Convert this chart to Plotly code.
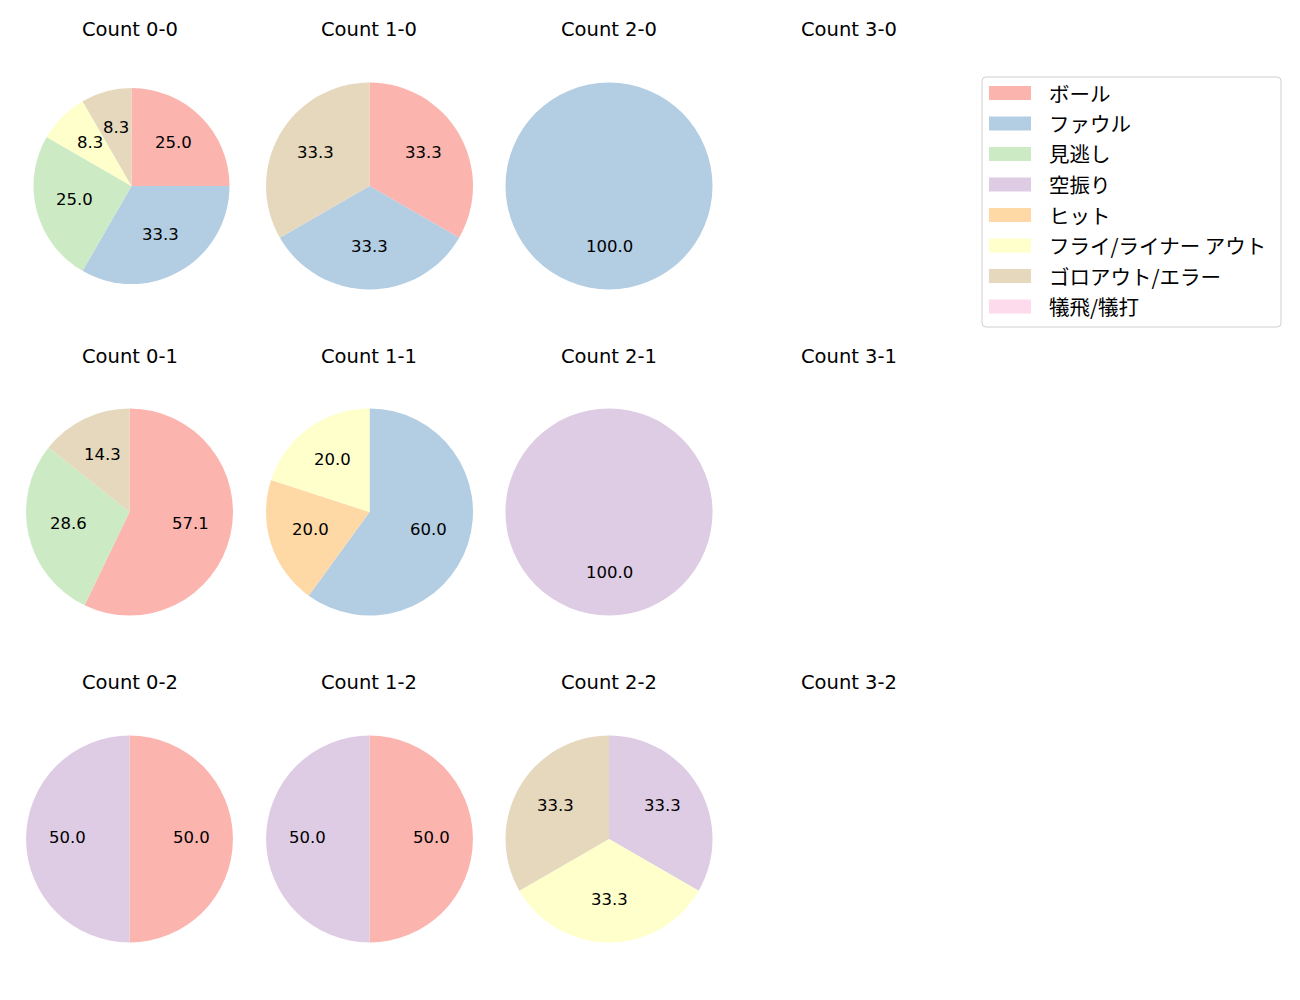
import math
import plotly.graph_objects as go

# ---- data ----
categories = ["ボール", "ファウル", "見逃し", "空振り", "ヒット",
              "フライ/ライナー アウト", "ゴロアウト/エラー", "犠飛/犠打"]
colors = ["#fbb4ae", "#b3cde3", "#ccebc5", "#decbe4", "#fed9a6",
          "#ffffcc", "#e5d8bd", "#fddaec"]

# counts per panel (order of categories); None = no data
count_0_0 = [3, 4, 3, 0, 0, 1, 1, 0]
count_1_0 = [1, 1, 0, 0, 0, 0, 1, 0]
count_2_0 = [0, 1, 0, 0, 0, 0, 0, 0]
count_3_0 = None
count_0_1 = [4, 0, 2, 0, 0, 0, 1, 0]
count_1_1 = [0, 3, 0, 0, 1, 1, 0, 0]
count_2_1 = [0, 0, 0, 1, 0, 0, 0, 0]
count_3_1 = None
count_0_2 = [1, 0, 0, 1, 0, 0, 0, 0]
count_1_2 = [1, 0, 0, 1, 0, 0, 0, 0]
count_2_2 = [0, 0, 0, 1, 0, 1, 1, 0]
count_3_2 = None

panel_titles = [["Count 0-0", "Count 1-0", "Count 2-0", "Count 3-0"],
                ["Count 0-1", "Count 1-1", "Count 2-1", "Count 3-1"],
                ["Count 0-2", "Count 1-2", "Count 2-2", "Count 3-2"]]
panel_data = [[count_0_0, count_1_0, count_2_0, count_3_0],
              [count_0_1, count_1_1, count_2_1, count_3_1],
              [count_0_2, count_1_2, count_2_2, count_3_2]]

# ---- layout geometry (pixels, page coordinates) ----
W, H = 1300, 1000
OFF = 8  # page body margin
col_x = [130, 369.5, 609, 849]
pie_x = [[131.5, 369.5, 609, 849], [129.5, 369.5, 609, 849], [129.5, 369.5, 609, 849]]
row_y = [186, 512, 839]
title_y = [29, 356, 682]
radius = [[98, 103.5, 103.5, 103.5], [103.5, 103.5, 103.5, 103.5], [103.5, 103.5, 103.5, 103.5]]
LABEL_DY = -2

TITLE_FONT = dict(family="DejaVu Sans", size=19.5, color="#000000")
LABEL_FONT = dict(family="DejaVu Sans", size=16.5, color="#000000")
LEGEND_FONT = dict(family="Noto Sans CJK JP", size=20.5, color="#000000")

fig = go.Figure()
annotations = []
shapes = []

def px2x(p):
    return (p - OFF) / W

def px2y(p):
    return 1 - (p - OFF) / H

for r in range(3):
    for c in range(4):
        annotations.append(dict(x=px2x(col_x[c]), y=px2y(title_y[r]), xref="paper", yref="paper",
                                text=panel_titles[r][c], showarrow=False, font=TITLE_FONT,
                                xanchor="center", yanchor="middle"))
        vals = panel_data[r][c]
        if vals is None:
            continue
        cx, cy, rad = pie_x[r][c], row_y[r], radius[r][c]
        labs = [l for l, v in zip(categories, vals) if v > 0]
        vv = [v for v in vals if v > 0]
        cols = [col for col, v in zip(colors, vals) if v > 0]
        fig.add_trace(go.Pie(
            labels=labs, values=vv, sort=False, direction="clockwise", rotation=0,
            marker=dict(colors=cols, line=dict(width=0)),
            textinfo="none", hoverinfo="label+percent", showlegend=False,
            domain=dict(x=[px2x(cx - rad), px2x(cx + rad)], y=[px2y(cy + rad), px2y(cy - rad)]),
        ))
        total = sum(vv)
        cum = 0
        for v in vv:
            mid = (cum + v / 2) / total
            cum += v
            th = math.radians(90 - 360 * mid)
            lx = cx + 0.6 * rad * math.cos(th)
            ly = cy - 0.6 * rad * math.sin(th) + LABEL_DY
            annotations.append(dict(x=px2x(lx), y=px2y(ly), xref="paper", yref="paper",
                                    text=f"{v / total * 100:.1f}", showarrow=False, font=LABEL_FONT,
                                    xanchor="center", yanchor="middle"))

# ---- legend (drawn manually to mimic the wide patches) ----
lg_left, lg_top, lg_right, lg_bottom = 982, 77, 1281, 327
shapes.append(dict(type="path", xref="paper", yref="paper",
                   path=(f"M {px2x(lg_left+4)},{px2y(lg_top)} L {px2x(lg_right-4)},{px2y(lg_top)} "
                         f"Q {px2x(lg_right)},{px2y(lg_top)} {px2x(lg_right)},{px2y(lg_top+4)} "
                         f"L {px2x(lg_right)},{px2y(lg_bottom-4)} "
                         f"Q {px2x(lg_right)},{px2y(lg_bottom)} {px2x(lg_right-4)},{px2y(lg_bottom)} "
                         f"L {px2x(lg_left+4)},{px2y(lg_bottom)} "
                         f"Q {px2x(lg_left)},{px2y(lg_bottom)} {px2x(lg_left)},{px2y(lg_bottom-4)} "
                         f"L {px2x(lg_left)},{px2y(lg_top+4)} "
                         f"Q {px2x(lg_left)},{px2y(lg_top)} {px2x(lg_left+4)},{px2y(lg_top)} Z"),
                   line=dict(color="#d0d0d0", width=1), fillcolor="rgba(255,255,255,0.8)", layer="above"))
for i, (lab, col) in enumerate(zip(categories, colors)):
    yc = 93 + i * 30.5
    shapes.append(dict(type="rect", xref="paper", yref="paper",
                       x0=px2x(989), x1=px2x(1031), y0=px2y(yc + 7), y1=px2y(yc - 7),
                       fillcolor=col, line=dict(width=0), layer="above"))
    annotations.append(dict(x=px2x(1047), y=px2y(yc - 0.5), xref="paper", yref="paper", text=lab,
                            showarrow=False, font=LEGEND_FONT, xanchor="left", yanchor="middle"))

fig.update_layout(
    width=W, height=H, margin=dict(l=0, r=0, t=0, b=0),
    paper_bgcolor="white", plot_bgcolor="white",
    annotations=annotations, shapes=shapes, showlegend=False,
)

fig.write_html("out.html")
